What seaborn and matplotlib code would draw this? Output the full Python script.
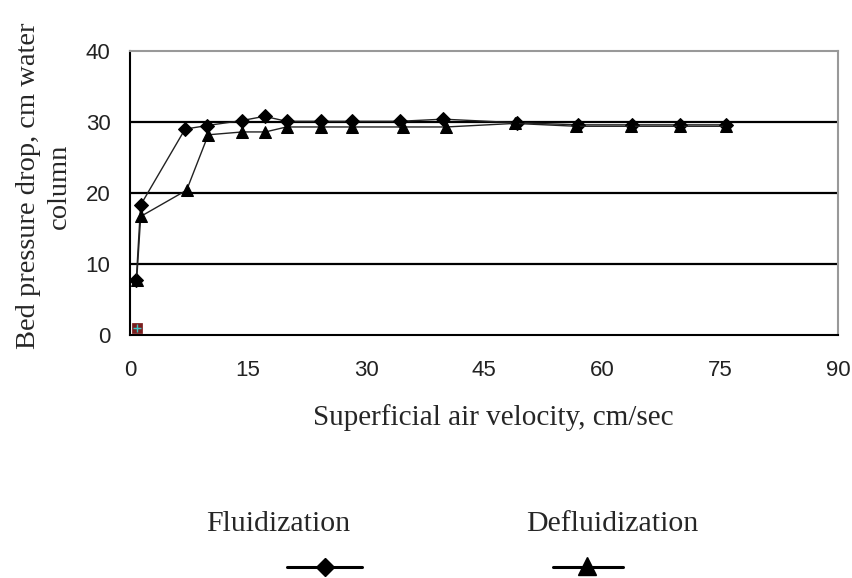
import matplotlib
matplotlib.use("Agg")
import matplotlib.pyplot as plt
from matplotlib.lines import Line2D
import seaborn as sns
import pandas as pd

# Fluidization run (increasing air velocity)
fluid_velocity = [0.8, 1.35, 7.0, 9.8, 14.2, 17.1, 19.9, 24.3, 28.2, 34.3, 39.8, 49.2, 57.0, 63.8, 69.9, 75.8]
fluid_pressure = [7.8, 18.3, 29.0, 29.5, 30.2, 30.8, 30.1, 30.1, 30.1, 30.1, 30.4, 29.9, 29.6, 29.6, 29.6, 29.6]

# Defluidization run (decreasing air velocity)
defluid_velocity = [0.85, 1.36, 7.2, 9.95, 14.3, 17.2, 19.9, 24.3, 28.2, 34.7, 40.2, 48.9, 56.7, 63.7, 69.9, 75.8]
defluid_pressure = [7.8, 16.7, 20.4, 28.2, 28.6, 28.6, 29.3, 29.3, 29.3, 29.3, 29.3, 29.8, 29.4, 29.4, 29.4, 29.4]

# Stray start point
start_velocity = [0.9]
start_pressure = [1.0]

x_ticks = [0, 15, 30, 45, 60, 75, 90]
y_ticks = [0, 10, 20, 30, 40]

fluid = pd.DataFrame({"v": fluid_velocity, "dp": fluid_pressure})
defluid = pd.DataFrame({"v": defluid_velocity, "dp": defluid_pressure})
start = pd.DataFrame({"v": start_velocity, "dp": start_pressure})

sns.set_style("white")
plt.rcParams["font.family"] = ["Liberation Sans", "DejaVu Sans"]

W, H = 853, 578
fig = plt.figure(figsize=(W / 100, H / 100), dpi=100)
ax = fig.add_axes([130 / W, 1 - 335 / H, 708 / W, 284 / H])

# grid lines at 10, 20, 30
for yv in y_ticks[1:-1]:
    ax.axhline(yv, color="black", lw=1.6, zorder=1)

sns.lineplot(data=fluid, x="v", y="dp", ax=ax, sort=False, color="#222222",
             lw=1.0, marker="D", markersize=7, markerfacecolor="black",
             markeredgecolor="black", zorder=3)
sns.lineplot(data=defluid, x="v", y="dp", ax=ax, sort=False, color="#222222",
             lw=1.0, marker="^", markersize=9, markerfacecolor="black",
             markeredgecolor="black", zorder=4)
sns.scatterplot(data=start, x="v", y="dp", ax=ax, marker="s", s=45,
                color="#7a1f1f", edgecolor="#7a1f1f", zorder=5)
sns.scatterplot(data=start, x="v", y="dp", ax=ax, marker="+", s=40,
                color="#3fc9c9", linewidth=1.0, zorder=6)

ax.set_xlim(0, 90)
ax.set_ylim(0, 40)
ax.set_xticks(x_ticks)
ax.set_yticks(y_ticks)
ax.tick_params(axis="both", direction="out", length=5, width=1.2,
               colors="black", labelsize=16)
ax.tick_params(axis="x", pad=13)
ax.tick_params(axis="y", pad=9)
for lab in ax.get_xticklabels() + ax.get_yticklabels():
    lab.set_color("#222222")

for side in ("left", "bottom"):
    ax.spines[side].set_color("black")
    ax.spines[side].set_linewidth(1.5)
for side in ("top", "right"):
    ax.spines[side].set_color("#999999")
    ax.spines[side].set_linewidth(1.5)

serif = ["Liberation Serif", "DejaVu Serif"]
ax.set_xlabel("Superficial air velocity, cm/sec", family=serif, fontsize=21,
              va="center")
ax.xaxis.set_label_coords((493 - 130) / 708, -(418 - 335) / 284)
ax.set_ylabel("Bed pressure drop, cm water\ncolumn", family=serif, fontsize=20.5,
              linespacing=1.3, va="center")
ax.yaxis.set_label_coords((44 - 130) / 708, (335 - 186) / 284)

# legend: label above each sample line
fig.text(278 / W, 1 - 524 / H, "Fluidization", family=serif, fontsize=21.5,
         ha="center", va="center")
fig.text(612 / W, 1 - 524 / H, "Defluidization", family=serif, fontsize=21.5,
         ha="center", va="center")
fig.add_artist(Line2D([287 / W, 362 / W], [1 - 567 / H] * 2, color="black",
                      lw=2.2, transform=fig.transFigure))
fig.add_artist(Line2D([325 / W], [1 - 567 / H], color="black", lw=0,
                      marker="D", markersize=9, transform=fig.transFigure))
fig.add_artist(Line2D([553 / W, 623 / W], [1 - 567 / H] * 2, color="black",
                      lw=2.2, transform=fig.transFigure))
fig.add_artist(Line2D([587 / W], [1 - 566 / H], color="black", lw=0,
                      marker="^", markersize=13, transform=fig.transFigure))

fig.savefig("out.png", dpi=100, facecolor="white")
